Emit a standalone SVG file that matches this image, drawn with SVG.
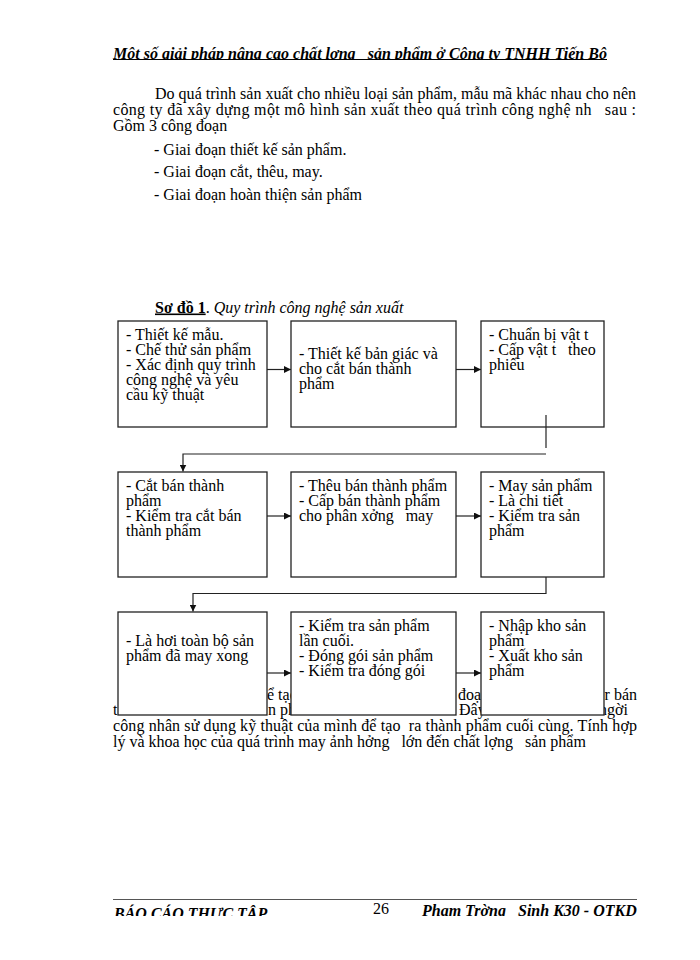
<svg xmlns="http://www.w3.org/2000/svg" width="700" height="960" viewBox="0 0 700 960">
<style>
text{font-family:"Liberation Serif","Times New Roman",serif;font-size:16px;fill:#000;white-space:pre}
.bi{font-weight:bold;font-style:italic}
.box{fill:#fff;stroke:#222;stroke-width:1.3}
.con{fill:none;stroke:#222;stroke-width:1.2}
</style>
<defs>
<marker id="ah" markerUnits="userSpaceOnUse" markerWidth="8" markerHeight="7" refX="7" refY="3.5" orient="auto">
<path d="M0,0 L7,3.5 L0,7 z" fill="#111"/>
</marker>
<clipPath id="hclip"><rect x="0" y="0" width="700" height="59.5"/></clipPath>
<clipPath id="fclip"><rect x="0" y="900" width="700" height="16"/></clipPath>
</defs>

<g id="header">
<text class="bi" x="113" y="59" textLength="494" lengthAdjust="spacingAndGlyphs" clip-path="url(#hclip)">Một số giải pháp nâng cao chất lợng   sản phẩm ở Công ty TNHH Tiến Bộ</text>
<line x1="113" y1="59.5" x2="607" y2="59.5" stroke="#000" stroke-width="1"/>
</g>

<g id="intro">
<text x="155" y="98.5" textLength="481" lengthAdjust="spacing">Do quá trình sản xuất cho nhiều loại sản phẩm, mẫu mã khác nhau cho nên</text>
<text x="113" y="114.5" textLength="523" lengthAdjust="spacing">công ty đã xây dựng một mô hình sản xuất theo quá trình công nghệ nh   sau :</text>
<text x="113" y="130.5">Gồm 3 công đoạn</text>
<text x="154" y="154.5">- Giai đoạn thiết kế sản phẩm.</text>
<text x="154" y="177">- Giai đoạn cắt, thêu, may.</text>
<text x="154" y="199.5">- Giai đoạn hoàn thiện sản phẩm</text>
</g>

<g id="title">
<text x="155" y="312.5"><tspan font-weight="bold" text-decoration="underline">Sơ đồ 1</tspan><tspan>. </tspan><tspan font-style="italic">Quy trình công nghệ sản xuất</tspan></text>
</g>

<g id="para-below">
<text x="259" y="699.5">để tạo</text>
<text x="458" y="699.5">đoạn</text>
<text x="637" y="699.5" text-anchor="end">r bán</text>
<text x="113" y="715">t</text>
<text x="268" y="715">n phẩm</text>
<text x="459" y="715">Đây</text>
<text x="628" y="715" text-anchor="end">ngời</text>
<text x="113" y="731" textLength="524" lengthAdjust="spacing">công nhân sử dụng kỹ thuật của mình để tạo  ra thành phẩm cuối cùng. Tính hợp</text>
<text x="113" y="746.5">lý và khoa học của quá trình may ảnh hởng   lớn đến chất lợng   sản phẩm</text>
</g>

<g id="connectors">
<line class="con" x1="267" y1="369.5" x2="291" y2="369.5" marker-end="url(#ah)"/>
<line class="con" x1="456" y1="369.5" x2="481" y2="369.5" marker-end="url(#ah)"/>
<path class="con" d="M546,427 V448"/>
<path class="con" d="M546,454 H183 V471.5" marker-end="url(#ah)"/>
<line class="con" x1="267" y1="516" x2="291" y2="516" marker-end="url(#ah)"/>
<line class="con" x1="456" y1="516" x2="481" y2="516" marker-end="url(#ah)"/>
<path class="con" d="M546,577 V593.5 H193 V611.5" marker-end="url(#ah)"/>
<line class="con" x1="267" y1="673" x2="291" y2="673" marker-end="url(#ah)"/>
<line class="con" x1="456" y1="673" x2="481" y2="673" marker-end="url(#ah)"/>
</g>

<g id="n1">
<rect class="box" x="118" y="321" width="149" height="106"/>
<text x="126" y="339.5">- Thiết kế mẫu.</text>
<text x="126" y="355">- Chế thử sản phẩm</text>
<text x="126" y="370">- Xác định quy trình</text>
<text x="126" y="385">công nghệ và yêu</text>
<text x="126" y="400">cầu kỹ thuật</text>
</g>
<g id="n2">
<rect class="box" x="291" y="321" width="165" height="106"/>
<text x="299" y="359">- Thiết kế bản giác và</text>
<text x="299" y="374">cho cắt bán thành</text>
<text x="299" y="389">phẩm</text>
</g>
<g id="n3">
<rect class="box" x="481" y="321" width="123" height="106"/>
<text x="489" y="339.5">- Chuẩn bị vật t</text>
<text x="489" y="355">- Cấp vật t   theo</text>
<text x="489" y="370">phiếu</text>
</g>
<line class="con" x1="546" y1="415" x2="546" y2="427"/>

<g id="n4">
<rect class="box" x="118" y="472" width="149" height="105"/>
<text x="126" y="490.5">- Cắt bán thành</text>
<text x="126" y="505.5">phẩm</text>
<text x="126" y="520.5">- Kiểm tra cắt bán</text>
<text x="126" y="535.5">thành phẩm</text>
</g>
<g id="n5">
<rect class="box" x="291" y="472" width="165" height="105"/>
<text x="299" y="490.5">- Thêu bán thành phẩm</text>
<text x="299" y="505.5">- Cấp bán thành phẩm</text>
<text x="299" y="520.5">cho phân xởng   may</text>
</g>
<g id="n6">
<rect class="box" x="481" y="472" width="123" height="105"/>
<text x="489" y="490.5">- May sản phẩm</text>
<text x="489" y="505.5">- Là chi tiết</text>
<text x="489" y="520.5">- Kiểm tra sản</text>
<text x="489" y="535.5">phẩm</text>
</g>

<g id="n7">
<rect class="box" x="118" y="612" width="149" height="103"/>
<text x="126" y="646">- Là hơi toàn bộ sản</text>
<text x="126" y="661">phẩm đã may xong</text>
</g>
<g id="n8">
<rect class="box" x="291" y="612" width="165" height="103"/>
<text x="299" y="631">- Kiểm tra sản phẩm</text>
<text x="299" y="646">lần cuối.</text>
<text x="299" y="661">- Đóng gói sản phẩm</text>
<text x="299" y="676">- Kiểm tra đóng gói</text>
</g>
<g id="n9">
<rect class="box" x="481" y="612" width="123" height="103"/>
<text x="489" y="631">- Nhập kho sản</text>
<text x="489" y="646">phẩm</text>
<text x="489" y="661">- Xuất kho sản</text>
<text x="489" y="676">phẩm</text>
</g>

<g id="footer">
<line x1="113" y1="899.5" x2="637" y2="899.5" stroke="#555" stroke-width="1"/>
<text class="bi" x="114" y="919" font-size="15" clip-path="url(#fclip)">BÁO CÁO THỰC TẬP</text>
<text x="373" y="914" font-size="15">26</text>
<text class="bi" x="422" y="916" clip-path="url(#fclip)">Pham Trờng   Sinh K30 - QTKD</text>
</g>
</svg>
